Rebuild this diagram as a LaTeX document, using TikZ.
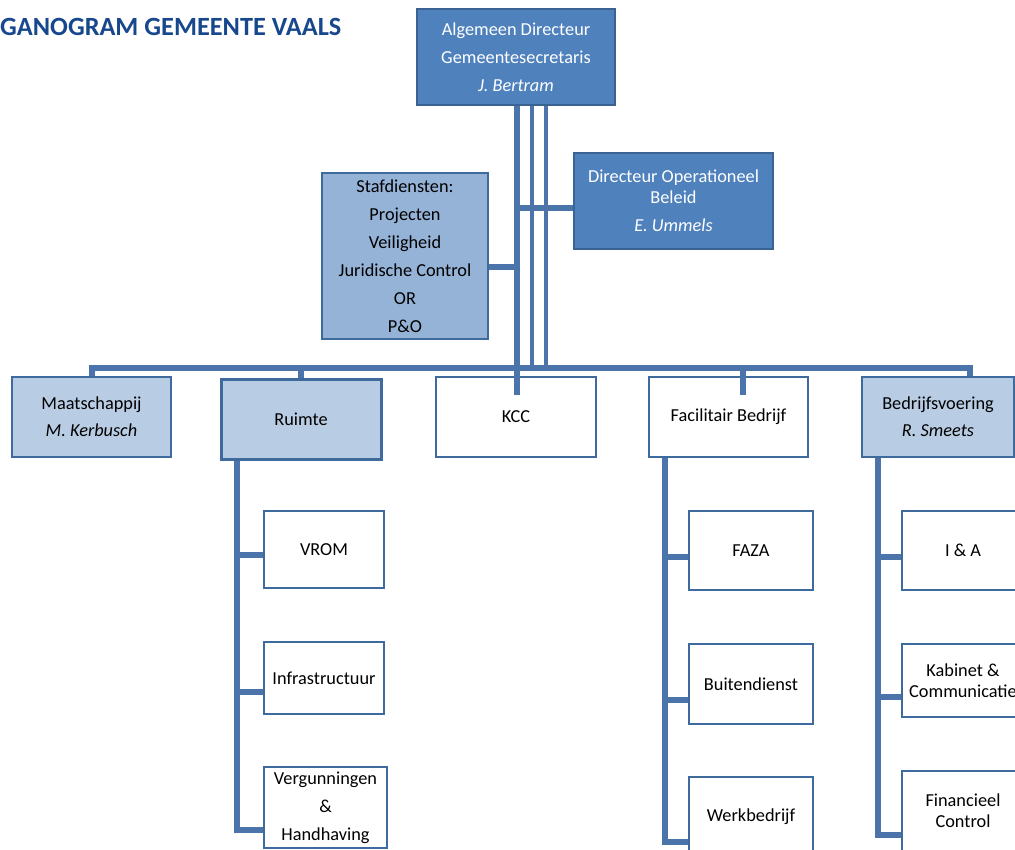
\documentclass[tikz,border=0pt]{standalone}
\usepackage{fontspec}
\setmainfont{Carlito}
\usepackage{tikz}
\definecolor{dkblue}{HTML}{4F81BD}
\definecolor{dkline}{HTML}{3A6394}
\definecolor{midblue}{HTML}{95B3D7}
\definecolor{ltblue}{HTML}{B8CCE4}
\definecolor{boxline}{HTML}{3F6A9E}
\definecolor{wirec}{HTML}{4A74AA}
\definecolor{titleblue}{HTML}{17478C}
\newcommand{\boxfont}{\fontsize{18.3}{21}\selectfont}
\newcommand{\titlefont}{\fontsize{26.3}{30}\selectfont\bfseries}
\tikzset{
  box/.style      = {draw=boxline, line width=2.4pt, fill=white, inner sep=0pt,
                     align=center, font=\boxfont, text=black},
  topbox/.style   = {box, draw=dkline, fill=dkblue, text=white},
  stafbox/.style  = {box, fill=midblue},
  unitbox/.style  = {box, fill=ltblue},
  wire/.style     = {draw=wirec, line width=5.5pt},
  thinwire/.style = {draw=wirec, line width=3.5pt},
}
\begin{document}
\begin{tikzpicture}[x=1pt,y=-1pt]
  \useasboundingbox (0,0) rectangle (1015,850);
  \clip (0,0) rectangle (1015,850);
  % title
  \node[font=\titlefont, text=titleblue, anchor=west, inner sep=0pt] (title) at (0,27)
    {GANOGRAM GEMEENTE VAALS};
  % directie
  \node[topbox, minimum width=198, minimum height=96] (ad) at (516,57)
    {Algemeen Directeur\\[7pt]Gemeentesecretaris\\[7pt]\textit{J. Bertram}};
  \node[topbox, minimum width=199, minimum height=96] (dob) at (673.5,201)
    {Directeur Operationeel\\Beleid\\[7pt]\textit{E. Ummels}};
  \node[stafbox, minimum width=166, minimum height=166] (staf) at (405,256)
    {Stafdiensten:\\[7pt]Projecten\\[7pt]Veiligheid\\[7pt]Juridische Control\\[7pt]OR\\[7pt]P\&O};
  % afdelingen
  \node[unitbox, minimum width=159, minimum height=80] (maat) at (91.5,417)
    {Maatschappij\\[6pt]\textit{M. Kerbusch}};
  \node[unitbox, line width=3pt, minimum width=160, minimum height=80] (ruimte) at (301,419) {Ruimte};
  \node[box, minimum width=160, minimum height=80] (kcc) at (516,417) {KCC};
  \node[box, minimum width=159, minimum height=80] (fb) at (728.5,417) {Facilitair Bedrijf};
  \node[unitbox, minimum width=152, minimum height=80] (bv) at (938,417)
    {Bedrijfsvoering\\[6pt]\textit{R. Smeets}};
  % teams
  \foreach \n/\x/\y/\w/\h/\t in {
      vrom/324/549.5/120/77/{VROM},
      infra/324/678/120/72/{Infrastructuur},
      vergun/325.5/807.5/123/81/{Vergunningen\\[7pt]\&\\[7pt]Handhaving},
      faza/751/550.5/124/79/{FAZA},
      buiten/751/684/124/80/{Buitendienst},
      werk/751/817/124/80/{Werkbedrijf},
      ia/963/550.5/122/79/{I \& A},
      kabinet/963/680.5/122/73/{Kabinet \&\\Communicatie},
      fincon/963/811/122/80/{Financieel\\Control}}
    {\node[box, minimum width=\w, minimum height=\h] (\n) at (\x,\y) {\t};}
  % lijnen directie
  \coordinate (kcctap) at (517,395);
  \coordinate (t2) at (532,368);
  \coordinate (t3) at (546,368);
  \draw[wire] (kcctap |- ad.south) -- (kcctap);
  \draw[thinwire] (t2 |- ad.south) -- (t2);
  \draw[thinwire] (t3 |- ad.south) -- (t3);
  \coordinate (stafj) at (519,267);
  \draw[wire] (stafj -| staf.east) -- (stafj);
  \coordinate (dobj) at (517,208);
  \draw[wire] (dobj) -- (dobj -| dob.west);
  % bus
  \coordinate (busL) at (92,368);
  \coordinate (busR) at (970,368);
  \draw[wire] (maat.north -| busL) -- (busL) -- (busR) -- (bv.north -| busR);
  \draw[wire] (ruimte.north) -- (ruimte.north |- busL);
  \coordinate (fbtap) at (743,395);
  \draw[wire] (fbtap |- busL) -- (fbtap);
  % kolommen
  \coordinate (rc) at (237,830);
  \draw[wire] (rc |- ruimte.south) -- (rc) -- (rc -| vergun.west);
  \foreach \n/\y in {vrom/555, infra/692}
    {\coordinate (s) at (237,\y); \draw[wire] (s) -- (s -| \n.west);}
  \coordinate (fc) at (665,842);
  \draw[wire] (fc |- fb.south) -- (fc) -- (fc -| werk.west);
  \foreach \n/\y in {faza/557, buiten/700}
    {\coordinate (s) at (665,\y); \draw[wire] (s) -- (s -| \n.west);}
  \coordinate (bc) at (878,835);
  \draw[wire] (bc |- bv.south) -- (bc) -- (bc -| fincon.west);
  \foreach \n/\y in {ia/557, kabinet/697}
    {\coordinate (s) at (878,\y); \draw[wire] (s) -- (s -| \n.west);}
\end{tikzpicture}
\end{document}
